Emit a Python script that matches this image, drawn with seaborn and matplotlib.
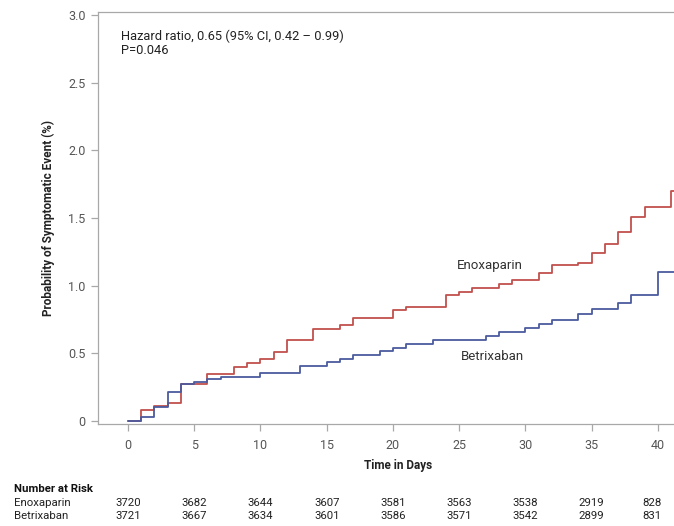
import numpy as np
import pandas as pd
import matplotlib
matplotlib.use("Agg")
import matplotlib.pyplot as plt
import seaborn as sns

# Kaplan-Meier style cumulative incidence (%), step changes by day
enox_days = [0, 1, 2, 3, 4, 6, 8, 9, 10, 11, 12, 14, 16, 17, 20, 21, 24, 25, 26,
             28, 29, 31, 32, 34, 35, 36, 37, 38, 39, 41, 42]
enox_vals = [0, 0.08, 0.11, 0.135, 0.27, 0.345, 0.40, 0.43, 0.46, 0.51, 0.595,
             0.68, 0.71, 0.76, 0.82, 0.845, 0.93, 0.955, 0.98, 1.01, 1.04, 1.09,
             1.15, 1.17, 1.24, 1.31, 1.40, 1.51, 1.58, 1.70, 1.70]

betr_days = [0, 1, 2, 3, 4, 5, 6, 7, 10, 13, 15, 16, 17, 19, 20, 21, 23, 27, 28,
             30, 31, 32, 34, 35, 37, 38, 40, 42]
betr_vals = [0, 0.027, 0.106, 0.217, 0.27, 0.292, 0.308, 0.327, 0.353, 0.406,
             0.435, 0.46, 0.487, 0.515, 0.54, 0.569, 0.60, 0.628, 0.66, 0.69,
             0.715, 0.746, 0.79, 0.826, 0.875, 0.929, 1.10, 1.10]

risk_days = [0, 5, 10, 15, 20, 25, 30, 35, 40]
risk_enox = [3720, 3682, 3644, 3607, 3581, 3563, 3538, 2919, 828]
risk_betr = [3721, 3667, 3634, 3601, 3586, 3571, 3542, 2899, 831]

groups = ["Enoxaparin", "Betrixaban"]
colors = {"Enoxaparin": "#c0504d", "Betrixaban": "#4b5b9f"}

df = pd.concat([
    pd.DataFrame({"day": enox_days, "pct": enox_vals, "arm": "Enoxaparin"}),
    pd.DataFrame({"day": betr_days, "pct": betr_vals, "arm": "Betrixaban"}),
], ignore_index=True)

sns.set_style("white")
plt.rcParams["font.family"] = ["Roboto", "DejaVu Sans"]

fig = plt.figure(figsize=(6.74, 5.26), dpi=100)
ax = fig.add_axes([98 / 674, 1 - 424 / 526, 1 - 98 / 674, (424 - 12) / 526])

sns.lineplot(data=df, x="day", y="pct", hue="arm", hue_order=groups,
             palette=colors, estimator=None, sort=False,
             drawstyle="steps-post", linewidth=1.3, legend=False, ax=ax)

ax.set_xlim(-2.264, 41.21)
ax.set_ylim(-0.022, 3.022)
ax.set_xticks(np.arange(0, 41, 5))
ax.set_yticks([0, 0.5, 1.0, 1.5, 2.0, 2.5, 3.0])
ax.set_yticklabels(["0", "0.5", "1.0", "1.5", "2.0", "2.5", "3.0"])

spine_c = "#a8a8a8"
for side in ["left", "bottom", "top"]:
    ax.spines[side].set_color(spine_c)
    ax.spines[side].set_linewidth(0.9)
ax.spines["right"].set_visible(False)
ax.tick_params(axis="both", direction="out", length=5, width=0.9,
               color=spine_c, labelcolor="#555555", labelsize=9)
ax.tick_params(axis="x", pad=6, bottom=True)
ax.tick_params(axis="y", left=True, pad=4)

ax.set_xlabel("")
ax.set_ylabel("Probability of Symptomatic Event (%)", fontsize=8.5,
              fontweight="bold", color="#222222", labelpad=9)
fig.text(398 / 674, 1 - 466 / 526, "Time in Days", ha="center", va="center",
         fontsize=8.5, fontweight="bold", color="#222222")

fig.text(121 / 674, 1 - 36 / 526, "Hazard ratio, 0.65 (95% CI, 0.42 \u2013 0.99)",
         ha="left", va="center", fontsize=9.3, color="#222222")
fig.text(121 / 674, 1 - 51 / 526, "P=0.046",
         ha="left", va="center", fontsize=9.3, color="#222222")

ax.text(24.8, 1.146, "Enoxaparin", ha="left", va="center", fontsize=9.5,
        color="#333333")
ax.text(25.1, 0.48, "Betrixaban", ha="left", va="center", fontsize=9.5,
        color="#333333")

# Number at risk table
fig.text(14 / 674, 1 - 489 / 526, "Number at Risk", ha="left", va="center",
         fontsize=8.2, fontweight="bold", color="#111111")
row_y = {"Enoxaparin": 503, "Betrixaban": 516}
counts = {"Enoxaparin": risk_enox, "Betrixaban": risk_betr}
for arm in groups:
    yf = 1 - row_y[arm] / 526
    fig.text(14 / 674, yf, arm, ha="left", va="center", fontsize=8.2,
             color="#222222")
    for d, n in zip(risk_days, counts[arm]):
        xf = ax.transData.transform((d, 0))[0] / fig.bbox.width
        fig.text(min(xf, 652 / 674), yf, str(n), ha="center", va="center",
                 fontsize=8.2, color="#222222")

fig.savefig("out.png", dpi=100)
